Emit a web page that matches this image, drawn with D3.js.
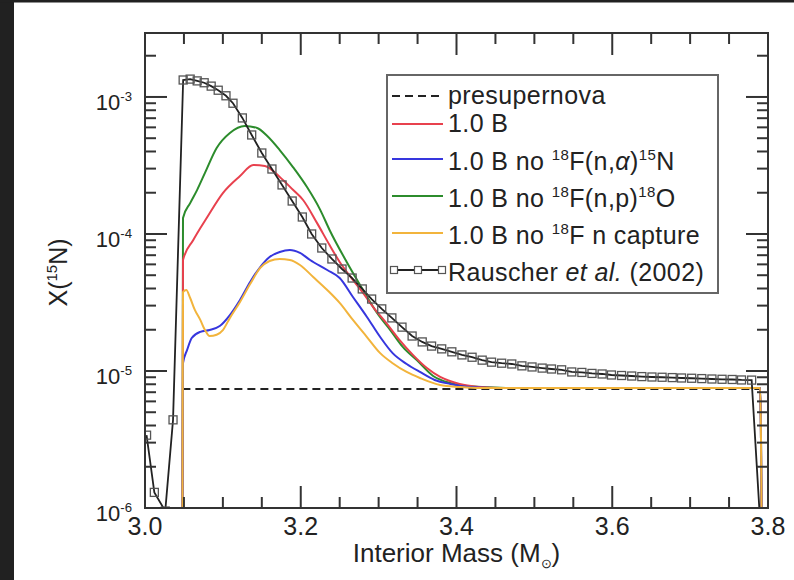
<!DOCTYPE html>
<html>
<head>
<meta charset="utf-8">
<script src="https://cdnjs.cloudflare.com/ajax/libs/d3/7.8.5/d3.min.js"></script>
<style>
  body { margin: 0; background: #fff; }
  svg { display: block; font-family: "Liberation Sans", Arial, sans-serif; }
</style>
</head>
<body>
<div id="chart"></div>
<script>
// axis ticks
const xTicks = [3.0, 3.2, 3.4, 3.6, 3.8];
const yTicks = [1e-6, 1e-5, 1e-4, 1e-3];
const yTickExp = ["-6", "-5", "-4", "-3"];

// presupernova profile
const preMass = [3.048, 3.79];
const preX = [7.4e-6, 7.4e-6];

// 1.0 B
const redMass = [3.048, 3.0488, 3.062, 3.080, 3.100, 3.122, 3.139, 3.154, 3.173, 3.190, 3.203, 3.221, 3.237, 3.250, 3.263, 3.280, 3.293, 3.311, 3.327, 3.344, 3.362, 3.379, 3.404, 3.430, 3.456, 3.600, 3.790, 3.792];
const redX = [5e-7, 6.46e-5, 9.04e-5, 1.33e-4, 1.99e-4, 2.65e-4, 3.19e-4, 3.14e-4, 2.61e-4, 2.10e-4, 1.77e-4, 1.20e-4, 8.3e-5, 6.25e-5, 4.94e-5, 3.71e-5, 2.93e-5, 2.20e-5, 1.68e-5, 1.31e-5, 1.05e-5, 9.04e-6, 8.04e-6, 7.64e-6, 7.5e-6, 7.5e-6, 7.5e-6, 5e-7];

// 1.0 B no 18F(n,a)15N
const blueMass = [3.048, 3.0488, 3.054, 3.060, 3.071, 3.083, 3.096, 3.109, 3.122, 3.135, 3.148, 3.160, 3.173, 3.186, 3.199, 3.212, 3.234, 3.250, 3.267, 3.285, 3.302, 3.318, 3.336, 3.353, 3.372, 3.392, 3.417, 3.449, 3.600, 3.790, 3.792];
const blueX = [5e-7, 1.14e-5, 1.42e-5, 1.74e-5, 1.93e-5, 1.99e-5, 2.13e-5, 2.56e-5, 3.30e-5, 4.46e-5, 5.74e-5, 6.79e-5, 7.39e-5, 7.64e-5, 7.27e-5, 6.46e-5, 5.46e-5, 4.77e-5, 3.47e-5, 2.48e-5, 1.77e-5, 1.35e-5, 1.125e-5, 9.84e-6, 8.6e-6, 8.04e-6, 7.64e-6, 7.5e-6, 7.5e-6, 7.5e-6, 5e-7];

// 1.0 B no 18F(n,p)18O
const greenMass = [3.048, 3.0488, 3.058, 3.067, 3.077, 3.092, 3.109, 3.128, 3.144, 3.157, 3.173, 3.190, 3.208, 3.225, 3.237, 3.259, 3.280, 3.298, 3.315, 3.331, 3.349, 3.370, 3.392, 3.413, 3.439, 3.469, 3.600, 3.790, 3.792];
const greenX = [5e-7, 1.31e-4, 1.68e-4, 2.10e-4, 2.79e-4, 4.24e-4, 5.46e-4, 6.14e-4, 5.94e-4, 5.19e-4, 4.10e-4, 3.08e-4, 2.20e-4, 1.50e-4, 1.07e-4, 6.25e-5, 3.90e-5, 2.65e-5, 1.99e-5, 1.50e-5, 1.20e-5, 9.2e-6, 8.17e-6, 7.77e-6, 7.6e-6, 7.5e-6, 7.5e-6, 7.5e-6, 5e-7];

// 1.0 B no 18F n capture
const yellowMass = [3.048, 3.0488, 3.053, 3.058, 3.064, 3.071, 3.077, 3.083, 3.092, 3.100, 3.109, 3.122, 3.135, 3.148, 3.160, 3.173, 3.186, 3.199, 3.216, 3.234, 3.250, 3.267, 3.285, 3.302, 3.318, 3.336, 3.353, 3.379, 3.404, 3.430, 3.600, 3.790, 3.792];
const yellowX = [5e-7, 3.77e-5, 3.90e-5, 3.41e-5, 2.79e-5, 2.36e-5, 1.99e-5, 1.80e-5, 1.84e-5, 1.99e-5, 2.44e-5, 3.19e-5, 4.31e-5, 5.65e-5, 6.35e-5, 6.57e-5, 6.46e-5, 5.94e-5, 4.85e-5, 3.90e-5, 3.14e-5, 2.36e-5, 1.77e-5, 1.35e-5, 1.14e-5, 9.84e-6, 8.89e-6, 7.9e-6, 7.64e-6, 7.5e-6, 7.5e-6, 7.5e-6, 5e-7];

// Rauscher et al. (2002)
const rauMass = [3.002, 3.012, 3.026, 3.036, 3.049, 3.058, 3.067, 3.076, 3.085, 3.094, 3.104, 3.113, 3.125, 3.137, 3.150, 3.163, 3.176, 3.189, 3.202, 3.214, 3.227, 3.240, 3.253, 3.266, 3.279, 3.291, 3.304, 3.317, 3.330, 3.343, 3.356, 3.368, 3.381, 3.394, 3.407, 3.420, 3.433, 3.445, 3.458, 3.471, 3.484, 3.497, 3.510, 3.522, 3.535, 3.548, 3.561, 3.574, 3.587, 3.599, 3.612, 3.625, 3.638, 3.651, 3.664, 3.677, 3.689, 3.702, 3.715, 3.728, 3.741, 3.754, 3.766, 3.779, 3.792];
const rauX = [3.4e-6, 1.3e-6, 9.5e-7, 4.4e-6, 1.33e-3, 1.35e-3, 1.31e-3, 1.27e-3, 1.20e-3, 1.12e-3, 1.02e-3, 9.0e-4, 7.03e-4, 5.28e-4, 3.90e-4, 2.98e-4, 2.28e-4, 1.74e-4, 1.33e-4, 1.0e-4, 7.9e-5, 6.57e-5, 5.55e-5, 4.77e-5, 3.97e-5, 3.35e-5, 2.84e-5, 2.44e-5, 2.09e-5, 1.80e-5, 1.63e-5, 1.52e-5, 1.45e-5, 1.38e-5, 1.31e-5, 1.26e-5, 1.20e-5, 1.16e-5, 1.14e-5, 1.125e-5, 1.09e-5, 1.07e-5, 1.05e-5, 1.034e-5, 1.02e-5, 9.84e-6, 9.76e-6, 9.6e-6, 9.51e-6, 9.35e-6, 9.27e-6, 9.19e-6, 9.1e-6, 9.04e-6, 9.0e-6, 8.95e-6, 8.89e-6, 8.85e-6, 8.8e-6, 8.74e-6, 8.7e-6, 8.67e-6, 8.6e-6, 8.58e-6, 5e-7];

// legend labels, split into plain / superscript / italic pieces
const legendLabels = [
    [{t: "presupernova"}],
    [{t: "1.0 B"}],
    [{t: "1.0 B no "}, {t: "18", sup: true}, {t: "F(n,"}, {t: "\u03b1", it: true}, {t: ")"}, {t: "15", sup: true}, {t: "N"}],
    [{t: "1.0 B no "}, {t: "18", sup: true}, {t: "F(n,p)"}, {t: "18", sup: true}, {t: "O"}],
    [{t: "1.0 B no "}, {t: "18", sup: true}, {t: "F n capture"}],
    [{t: "Rauscher "}, {t: "et al.", it: true}, {t: " (2002)"}]
];

const width = 794;
const height = 580;
const plot = {left: 145, right: 768, top: 33, bottom: 508};
const ink = "#222";

const svg = d3.select("#chart")
    .append("svg")
    .attr("width", width)
    .attr("height", height);

svg.append("rect").attr("width", width).attr("height", height).attr("fill", "#fff");
// dark frame of the screenshot
svg.append("rect").attr("width", 14).attr("height", height).attr("fill", "#212121");
svg.append("rect").attr("width", width).attr("height", 2.5).attr("fill", "#212121");

const x = d3.scaleLinear().domain([3.0, 3.8]).range([plot.left, plot.right]);
const y = d3.scaleLog().domain([1e-6, 2.93e-3]).range([plot.bottom, plot.top]);

svg.append("clipPath").attr("id", "clip")
    .append("rect")
    .attr("x", plot.left).attr("y", plot.top)
    .attr("width", plot.right - plot.left).attr("height", plot.bottom - plot.top);

const data = svg.append("g").attr("clip-path", "url(#clip)");

function pairs(ms, vs) {
    return ms.map((m, i) => [m, vs[i]]);
}

const smooth = d3.line().x(d => x(d[0])).y(d => y(d[1])).curve(d3.curveMonotoneX);
const straight = d3.line().x(d => x(d[0])).y(d => y(d[1]));

// presupernova
data.append("path")
    .attr("d", straight(pairs(preMass, preX)))
    .attr("fill", "none").attr("stroke", ink)
    .attr("stroke-width", 2).attr("stroke-dasharray", "8,5");

const series = [
    {m: greenMass, v: greenX, c: "#2c8c2c"},
    {m: redMass, v: redX, c: "#e8414e"},
    {m: blueMass, v: blueX, c: "#3636de"},
    {m: yellowMass, v: yellowX, c: "#f2b43c"}
];

series.forEach(s => {
    data.append("path")
        .attr("d", smooth(pairs(s.m, s.v)))
        .attr("fill", "none")
        .attr("stroke", s.c)
        .attr("stroke-width", 2);
});

// Rauscher line with square markers
const rau = pairs(rauMass, rauX);
data.append("path")
    .attr("d", straight(rau))
    .attr("fill", "none").attr("stroke", ink).attr("stroke-width", 1.8);

data.selectAll("rect.mark")
    .data(rau)
    .enter()
    .append("rect")
    .attr("class", "mark")
    .attr("x", d => x(d[0]) - 4)
    .attr("y", d => y(d[1]) - 4)
    .attr("width", 8).attr("height", 8)
    .attr("fill", "none").attr("stroke", "#555").attr("stroke-width", 1.3);

// frame
svg.append("rect")
    .attr("x", plot.left).attr("y", plot.top)
    .attr("width", plot.right - plot.left).attr("height", plot.bottom - plot.top)
    .attr("fill", "none").attr("stroke", "#333").attr("stroke-width", 2);

const major = 22;
const minor = 11;
const ticks = svg.append("g").attr("stroke", "#333").attr("stroke-width", 2);

// x ticks on bottom and top
const xMinor = d3.range(1, 16).map(i => 3 + i * 0.05);
xMinor.forEach(v => {
    const len = Math.abs(Math.round(v * 5) - v * 5) < 1e-6 ? major : minor;
    ticks.append("line").attr("x1", x(v)).attr("x2", x(v)).attr("y1", plot.bottom).attr("y2", plot.bottom - len);
    ticks.append("line").attr("x1", x(v)).attr("x2", x(v)).attr("y1", plot.top).attr("y2", plot.top + len);
});

// y ticks on left and right
const yAll = [];
[-6, -5, -4, -3].forEach(e => {
    for (let k = 1; k <= 9; k++) yAll.push({v: k * Math.pow(10, e), len: k === 1 ? major : minor});
});
yAll.filter(d => d.v > 1e-6 && d.v < 2.93e-3).forEach(d => {
    ticks.append("line").attr("x1", plot.left).attr("x2", plot.left + d.len).attr("y1", y(d.v)).attr("y2", y(d.v));
    ticks.append("line").attr("x1", plot.right).attr("x2", plot.right - d.len).attr("y1", y(d.v)).attr("y2", y(d.v));
});

// writes pieces into a text element with raised superscripts
function rich(text, parts, size) {
    let up = false;
    const shift = size * 0.42;
    parts.forEach(p => {
        const t = text.append("tspan").text(p.t);
        if (p.sup) {
            t.attr("font-size", size * 0.6);
            if (!up) { t.attr("dy", -shift); up = true; }
        } else if (up) {
            t.attr("dy", shift); up = false;
        }
        if (p.it) t.attr("font-style", "italic");
    });
}

// tick labels
svg.selectAll("text.xt")
    .data(xTicks)
    .enter()
    .append("text")
    .attr("x", d => x(d)).attr("y", 535)
    .attr("text-anchor", "middle")
    .attr("font-size", 25).attr("fill", ink)
    .text(d => d.toFixed(1));

yTicks.forEach((v, i) => {
    const t = svg.append("text")
        .attr("x", 132).attr("y", y(v) + 13)
        .attr("text-anchor", "end")
        .attr("font-size", 22).attr("fill", ink);
    rich(t, [{t: "10"}, {t: yTickExp[i], sup: true}], 22);
});

// axis titles
const xt = svg.append("text")
    .attr("x", (plot.left + plot.right) / 2).attr("y", 562)
    .attr("text-anchor", "middle")
    .attr("font-size", 26).attr("fill", ink);
xt.append("tspan").text("Interior Mass (M");
xt.append("tspan").text("\u2299").attr("font-size", 13).attr("dy", 6);
xt.append("tspan").text(")").attr("dy", -6);

const yt = svg.append("text")
    .attr("transform", "translate(67," + ((plot.top + plot.bottom) / 2 + 2) + ") rotate(-90)")
    .attr("text-anchor", "middle")
    .attr("font-size", 25).attr("fill", ink);
rich(yt, [{t: "X("}, {t: "15", sup: true}, {t: "N)"}], 25);

// legend
const legend = svg.append("g");
legend.append("rect")
    .attr("x", 387).attr("y", 75).attr("width", 331).attr("height", 218)
    .attr("fill", "#fff").attr("stroke", "#666").attr("stroke-width", 2);

const rowY = [96, 124, 159, 196, 233, 270];
const sampleColors = [ink, "#e8414e", "#3636de", "#2c8c2c", "#f2b43c", ink];

legendLabels.forEach((parts, i) => {
    const ly = rowY[i];
    const l = legend.append("line")
        .attr("x1", 392).attr("x2", 443).attr("y1", ly).attr("y2", ly)
        .attr("stroke", sampleColors[i]).attr("stroke-width", i === 5 ? 1.8 : 2);
    if (i === 0) l.attr("stroke-dasharray", "8,5");
    if (i === 5) {
        [394, 418, 442].forEach(sx => {
            legend.append("rect")
                .attr("x", sx - 3.5).attr("y", ly - 3.5).attr("width", 7).attr("height", 7)
                .attr("fill", "#fff").attr("stroke", "#555").attr("stroke-width", 1.2);
        });
    }
    const t = legend.append("text")
        .attr("x", 448).attr("y", ly + (i < 2 ? 8 : 11))
        .attr("font-size", 25).attr("letter-spacing", 0.4).attr("fill", ink);
    rich(t, parts, 25);
});
</script>
</body>
</html>
